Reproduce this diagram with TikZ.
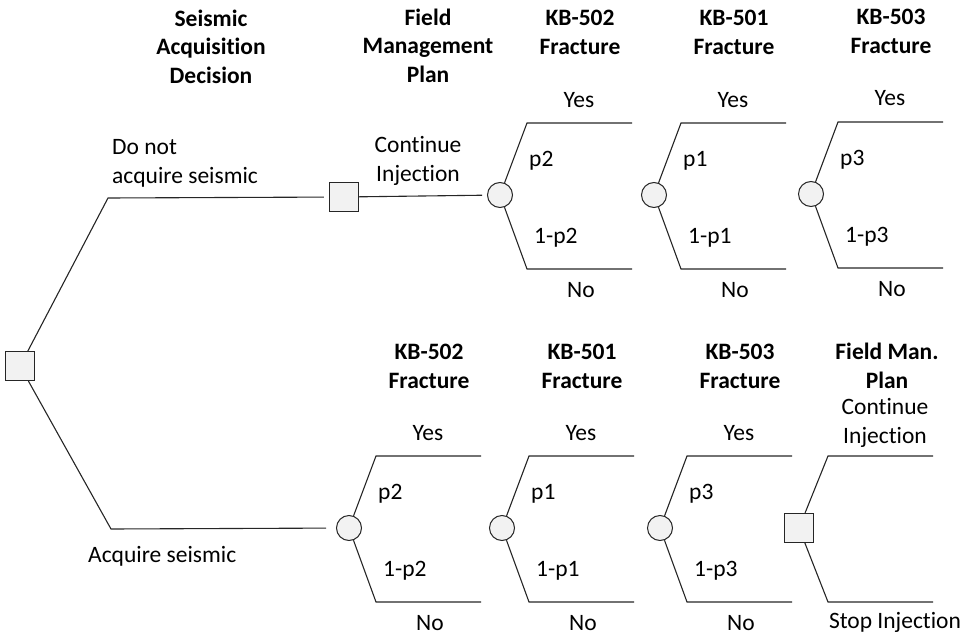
\documentclass[tikz,border=0pt]{standalone}
\usepackage{fontspec}
\setmainfont{Carlito}[Ligatures=NoCommon]

\begin{document}
\begin{tikzpicture}[
    x=1pt, y=-1pt,
    branch/.style={line width=1.1pt, black!85},
    decision/.style={rectangle, draw=black!85, fill=gray!10, line width=1.1pt, minimum size=29pt, inner sep=0pt},
    chance/.style={circle, draw=black!85, fill=gray!10, line width=1pt, minimum size=25pt, inner sep=0pt},
    txt/.style={font=\fontsize{23.5}{29}\selectfont, inner sep=0pt, anchor=base},
    head/.style={txt, font=\bfseries\fontsize{23.5}{29}\selectfont, align=center}
]
    \useasboundingbox (0,0) rectangle (972,634);

    % seismic decision and field management plan
    \node[decision] (root) at (20,366) {};
    \coordinate (up) at (108,198);
    \coordinate (lo) at (111,529);
    \node[decision] (plan) at (344,197) {};

    % the six fracture chance nodes (multi-line text sits on its last baseline)
    \foreach \n/\x/\y/\w/\p in {a/500/195/502/2, b/654/195/501/1, c/811/194/503/3,
                                d/349/528/502/2, e/502/528/501/1, f/660/528/503/3} {
        \node[chance] (\n) at (\x,\y) {};
        \coordinate (\n-t) at (\x+27,\y-72);
        \coordinate (\n-te) at (\x+132,\y-72);
        \coordinate (\n-b) at (\x+27,\y+74);
        \coordinate (\n-be) at (\x+132,\y+74);
        \draw[branch] (\n) -- (\n-t) -- (\n-te);
        \draw[branch] (\n) -- (\n-b) -- (\n-be);
        \node[head] (\n-head) at (\x+80,\y-140) {KB-\w\\Fracture};
        \node[txt] (\n-yes) at (\x+79,\y-88) {Yes};
        \node[txt, anchor=base west] (\n-p) at (\x+29,\y-29) {p\p};
        \node[txt, anchor=base west] (\n-q) at (\x+34,\y+48) {1-p\p};
        \node[txt] (\n-no) at (\x+81,\y+102) {No};
    }

    % last decision after the lower branch
    \node[decision] (fmp) at (799,528) {};
    \coordinate (fmp-t) at (828,456);
    \coordinate (fmp-te) at (933,456);
    \coordinate (fmp-b) at (828,602);
    \coordinate (fmp-be) at (933,602);
    \draw[branch] (fmp) -- (fmp-t) -- (fmp-te);
    \draw[branch] (fmp) -- (fmp-b) -- (fmp-be);

    \draw[branch, shorten >=5pt] (root) -- (up) -- (plan);
    \draw[branch, shorten >=5pt] (plan) -- (a);
    \draw[branch, shorten >=10pt] (root) -- (lo) -- (d);

    \node[head] (h-seis) at (211,84) {Seismic\\Acquisition\\Decision};
    \node[head] (h-plan) at (428,83) {Field\\Management\\Plan};
    \node[txt, anchor=base west, align=left] (l-not) at (112,183) {Do not\\acquire seismic};
    \node[txt, align=center] (l-cont) at (418,181) {Continue\\Injection};
    \node[txt, anchor=base west] (l-acq) at (88,562) {Acquire seismic};
    \node[head] (h-fmp) at (887,388) {Field Man.\\Plan};
    \node[txt, align=center] (l-cont2) at (885,443) {Continue\\Injection};
    \node[txt] (l-stop) at (895,628) {Stop Injection};
\end{tikzpicture}
\end{document}
